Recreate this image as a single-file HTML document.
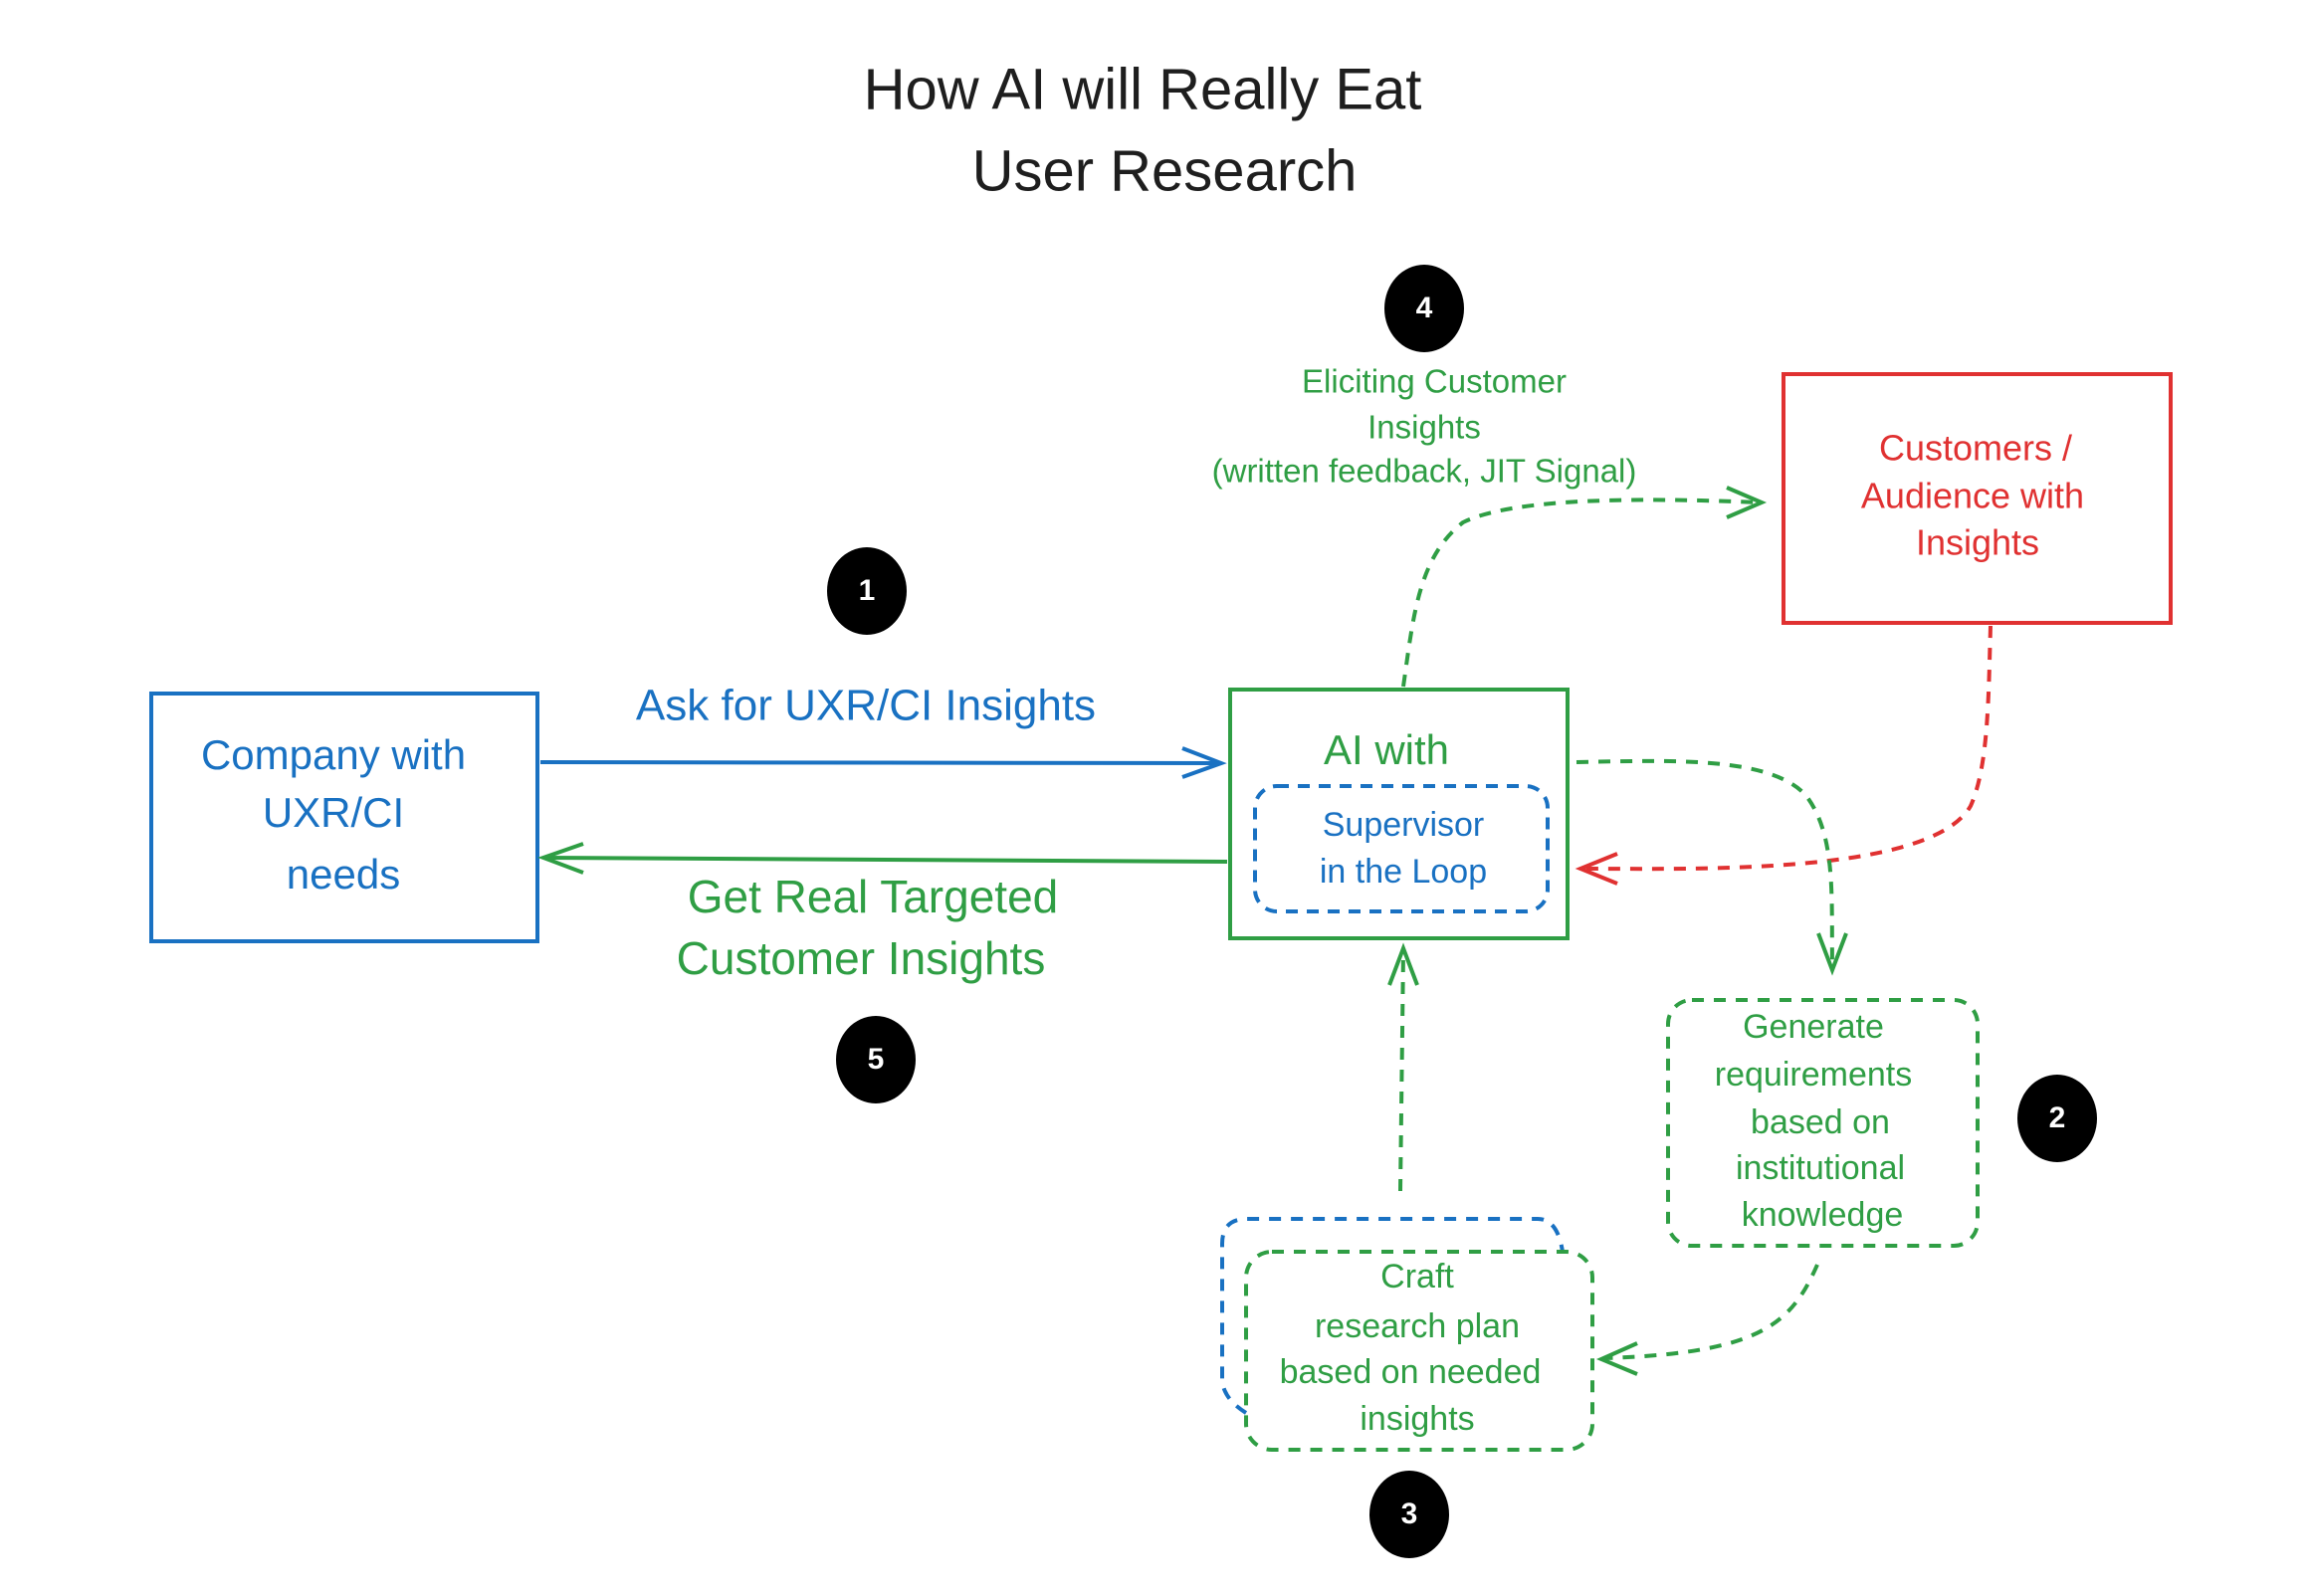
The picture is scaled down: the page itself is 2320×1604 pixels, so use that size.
<!DOCTYPE html>
<html><head><meta charset="utf-8"><style>
html,body{margin:0;padding:0;background:#fff;}
svg{display:block;}
text{font-family:"Liberation Sans",sans-serif;text-anchor:middle;dominant-baseline:middle;}
</style></head><body>
<svg width="2320" height="1604" viewBox="0 0 2320 1604" xmlns="http://www.w3.org/2000/svg">
<g fill="#1e1e1e" font-size="58">
<text x="1148" y="94">How AI will Really Eat</text>
<text x="1170" y="176">User Research</text>
</g>
<rect x="152" y="697" width="388" height="249" fill="none" stroke="#1971c2" stroke-width="4"/>
<g fill="#1971c2" font-size="42"><text x="335" y="762">Company with</text><text x="335" y="820">UXR/CI</text><text x="345" y="882">needs</text></g>
<line x1="543" y1="766" x2="1225" y2="767" stroke="#1971c2" stroke-width="4"/>
<path d="M1188,752 L1227,767 L1188,781" fill="none" stroke="#1971c2" stroke-width="4"/>
<text x="870" y="712" fill="#1971c2" font-size="44">Ask for UXR/CI Insights</text>
<line x1="1233" y1="866" x2="548" y2="862" stroke="#2f9e44" stroke-width="4"/>
<path d="M586,848 L546,862 L586,877" fill="none" stroke="#2f9e44" stroke-width="4"/>
<g fill="#2f9e44" font-size="46"><text x="877" y="905">Get Real Targeted</text><text x="865" y="967">Customer Insights</text></g>
<rect x="1236" y="693" width="339" height="250" fill="none" stroke="#2f9e44" stroke-width="4"/>
<text x="1393" y="757" fill="#2f9e44" font-size="42">AI with</text>
<rect x="1261" y="790" width="294" height="126" rx="22" fill="none" stroke="#1971c2" stroke-width="4" stroke-dasharray="12 9"/>
<g fill="#1971c2" font-size="34"><text x="1410" y="831">Supervisor</text><text x="1410" y="878">in the Loop</text></g>
<rect x="1792" y="376" width="389" height="250" fill="none" stroke="#e03131" stroke-width="4"/>
<g fill="#e03131" font-size="36"><text x="1985" y="453">Customers /</text><text x="1982" y="501">Audience with</text><text x="1987" y="548">Insights</text></g>
<g fill="#2f9e44" font-size="33"><text x="1441" y="386">Eliciting Customer</text><text x="1431" y="432">Insights</text><text x="1431" y="476">(written feedback, JIT Signal)</text></g>
<path d="M1410,690 C1420,620 1425,560 1470,525 C1520,500 1650,500 1768,505" fill="none" stroke="#2f9e44" stroke-width="4" stroke-dasharray="12 10"/>
<path d="M1735,490 L1770,505 L1735,520" fill="none" stroke="#2f9e44" stroke-width="4"/>
<path d="M2000,629 C1998,700 1998,770 1980,810 C1940,880 1700,873 1590,873" fill="none" stroke="#e03131" stroke-width="4" stroke-dasharray="12 10"/>
<path d="M1625,858 L1588,873 L1625,888" fill="none" stroke="#e03131" stroke-width="4"/>
<path d="M1584,766 C1680,764 1780,760 1815,800 C1845,840 1840,900 1841,972" fill="none" stroke="#2f9e44" stroke-width="4" stroke-dasharray="12 10"/>
<path d="M1827,938 L1841,975 L1855,938" fill="none" stroke="#2f9e44" stroke-width="4"/>
<rect x="1676" y="1005" width="311" height="247" rx="24" fill="none" stroke="#2f9e44" stroke-width="4" stroke-dasharray="12 10"/>
<g fill="#2f9e44" font-size="34"><text x="1822" y="1034">Generate</text><text x="1822" y="1082">requirements</text><text x="1829" y="1130">based on</text><text x="1829" y="1176">institutional</text><text x="1831" y="1223">knowledge</text></g>
<path d="M1826,1271 C1800,1330 1770,1360 1612,1365" fill="none" stroke="#2f9e44" stroke-width="4" stroke-dasharray="12 10"/>
<path d="M1645,1350 L1609,1366 L1645,1381" fill="none" stroke="#2f9e44" stroke-width="4"/>
<path d="M1252,1420 Q1228,1405 1228,1385 L1228,1250 Q1228,1225 1253,1225 L1545,1225 Q1565,1225 1570,1258" fill="none" stroke="#1971c2" stroke-width="4" stroke-dasharray="12 10"/>
<rect x="1252" y="1258" width="348" height="199" rx="26" fill="none" stroke="#2f9e44" stroke-width="4" stroke-dasharray="12 10"/>
<g fill="#2f9e44" font-size="34"><text x="1424" y="1285">Craft</text><text x="1424" y="1335">research plan</text><text x="1417" y="1381">based on needed</text><text x="1424" y="1428">insights</text></g>
<path d="M1407,1197 L1410,956" fill="none" stroke="#2f9e44" stroke-width="4" stroke-dasharray="12 10"/>
<path d="M1396,990 L1410,953 L1424,990" fill="none" stroke="#2f9e44" stroke-width="4"/>
<g fill="#000"><ellipse cx="871" cy="594" rx="40" ry="44"/><ellipse cx="880" cy="1065" rx="40" ry="44"/><ellipse cx="1431" cy="310" rx="40" ry="44"/><ellipse cx="2067" cy="1124" rx="40" ry="44"/><ellipse cx="1416" cy="1522" rx="40" ry="44"/></g>
<g fill="#fff" font-size="30" font-weight="bold"><text x="871" y="595">1</text><text x="880" y="1066">5</text><text x="1431" y="311">4</text><text x="2067" y="1125">2</text><text x="1416" y="1523">3</text></g>
</svg>
</body></html>
